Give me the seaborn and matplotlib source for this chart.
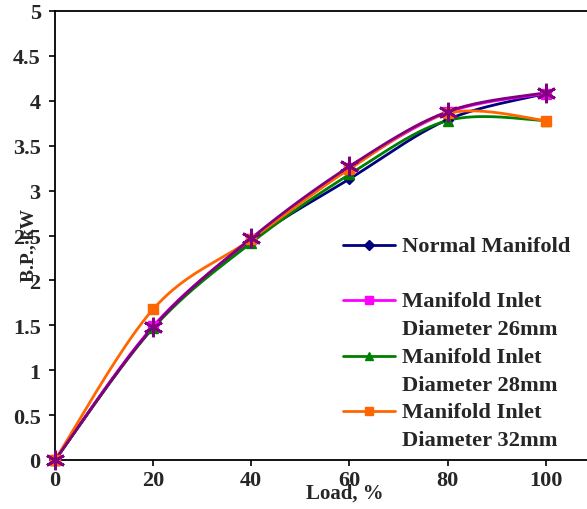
import numpy as np
import matplotlib
matplotlib.use("Agg")
import matplotlib.pyplot as plt
from matplotlib.lines import Line2D
import seaborn as sns

# ---- data ----
load = [0, 20, 40, 60, 80, 100]
normal = [0, 1.48, 2.44, 3.13, 3.79, 4.08]
d26 = [0, 1.49, 2.46, 3.25, 3.87, 4.08]
d28 = [0, 1.47, 2.42, 3.18, 3.78, 3.78]
d32 = [0, 1.68, 2.46, 3.24, 3.86, 3.78]
extra = [0, 1.48, 2.47, 3.27, 3.88, 4.09]

labels = ["Normal Manifold", "Manifold Inlet\nDiameter 26mm",
          "Manifold Inlet\nDiameter 28mm", "Manifold Inlet\nDiameter 32mm"]
xticks = [0, 20, 40, 60, 80, 100]
yticks = [0, 0.5, 1, 1.5, 2, 2.5, 3, 3.5, 4, 4.5, 5]

sns.set_style("white")
plt.rcParams['font.family'] = ['Liberation Serif', 'DejaVu Serif']
plt.rcParams['font.weight'] = 'bold'


def smooth(xs, ys, n=40):
    P = np.column_stack([xs, ys]).astype(float)
    out = []
    for i in range(len(P) - 1):
        p0 = P[i - 1] if i > 0 else P[i]
        p1, p2 = P[i], P[i + 1]
        p3 = P[i + 2] if i + 2 < len(P) else P[i + 1]
        c1 = p1 + (p2 - p0) / 6.0
        c2 = p2 - (p3 - p1) / 6.0
        t = np.linspace(0, 1, n)[:, None]
        seg = ((1 - t) ** 3) * p1 + 3 * ((1 - t) ** 2) * t * c1 + 3 * (1 - t) * t ** 2 * c2 + t ** 3 * p2
        out.append(seg if i == 0 else seg[1:])
    out = np.vstack(out)
    return out[:, 0], out[:, 1]


fig = plt.figure(figsize=(5.87, 5.10), dpi=100)
ax = fig.add_axes([55 / 587, 1 - 461 / 510, 1 - 55 / 587, (461 - 12) / 510])

series = [
    (normal, "#000080", "D", 5),
    (d26, "#FF00FF", "s", 7),
    (d28, "#008000", "^", 7),
    (d32, "#FF6600", "s", 7),
    (extra, "#800080", (6, 2, 0), 14),
]
for ys, col, mk, ms in series:
    sx, sy = smooth(load, ys)
    sns.lineplot(x=sx, y=sy, color=col, lw=2.0, ax=ax, sort=False, estimator=None, clip_on=False)
    ax.plot(load, ys, linestyle="none", marker=mk, ms=ms, color=col, mfc=col, mec=col,
            mew=2.0 if mk == (6, 2, 0) else 1, clip_on=False, zorder=5)

ax.set_xlim(0, 108.4)
ax.set_ylim(0, 5)
ax.set_xticks(xticks)
ax.set_yticks(yticks)
ax.set_xticklabels([str(v) for v in xticks], fontsize=16, fontweight='bold')
ax.set_yticklabels([("%g" % v) for v in yticks], fontsize=16, fontweight='bold')
ax.tick_params(axis='both', direction='out', length=4.3, width=1.2, color='black')
ax.tick_params(axis='y', pad=6)
ax.tick_params(axis='x', pad=3)
ax.tick_params(left=True, bottom=True)

for s in ["left", "bottom", "top"]:
    ax.spines[s].set_visible(True)
    ax.spines[s].set_color("black")
    ax.spines[s].set_linewidth(1.3)
ax.spines["right"].set_visible(False)

ax.set_xlabel("Load, %", fontsize=15, fontweight='bold')
ax.set_ylabel("B.P., kW", fontsize=14, fontweight='bold')
ax.xaxis.set_label_coords((345 - 55) / 532, (461 - 484) / 449)
ax.yaxis.set_label_coords((37 - 55) / 532, (461 - 245) / 449)

# custom legend (handles aligned to first text line)
leg_rows = [246, 301, 357, 412]
for (ys, col, mk, ms), lab, yp in zip(series[:4], labels, leg_rows):
    yf = 1 - yp / 510
    fig.add_artist(Line2D([343 / 587, 395 / 587], [yf, yf], color=col, lw=2.0,
                          transform=fig.transFigure))
    fig.add_artist(Line2D([369 / 587], [yf], color=col, marker=mk, ms=ms - 1 if mk != "D" else 5,
                          linestyle="none", transform=fig.transFigure))
    fig.text(402 / 587, yf + 9 / 510, lab, fontsize=16.2, fontweight='bold', va='top',
             ha='left', linespacing=1.55, transform=fig.transFigure)

fig.savefig("out.png", dpi=100)
